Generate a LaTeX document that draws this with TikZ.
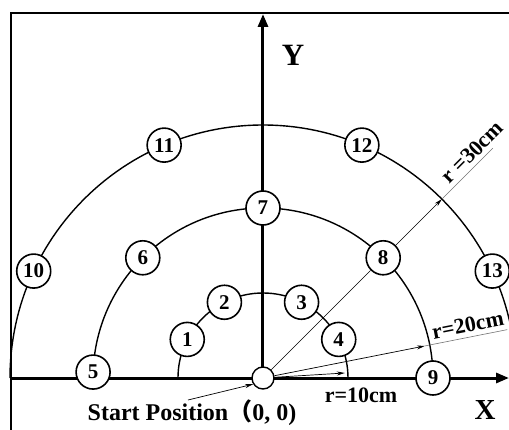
\documentclass[tikz,border=0pt]{standalone}
\usepackage{fontspec}
\setmainfont{Liberation Serif}
\newfontfamily\cjk{Noto Sans CJK SC}
\usetikzlibrary{arrows.meta}
\def\rin{85}
\def\rmid{170}
\def\rout{253}

\begin{document}
\begin{tikzpicture}[
    x=1pt, y=1pt,
    frame/.style={line width=1.6pt},
    axis/.style={line width=3pt, -{Triangle[length=13pt, width=10pt]}},
    ring/.style={line width=1.4pt},
    ray/.style={line width=0.7pt},
    dim/.style={line width=0.7pt, -{Stealth[length=8pt, width=4pt]}},
    lead/.style={line width=0.6pt, draw=black!55},
    spot/.style={circle, draw, line width=1.6pt, fill=white, minimum size=34pt,
                 inner sep=0pt, font=\fontsize{21}{21}\selectfont\bfseries},
    origin/.style={circle, draw, line width=1.4pt, fill=white, minimum size=22pt, inner sep=0pt},
    lab/.style={font=\fontsize{22}{22}\selectfont\bfseries},
  ]

  \useasboundingbox (-263,-51) rectangle (246,378);
  \clip (-263,-51) rectangle (246,378);

  % --- frame -------------------------------------------------------------
  \draw[frame] (-252,-80) -- (-252,365) -- (280,365);

  % --- the three rings ---------------------------------------------------
  \foreach \r in {\rin, \rmid, \rout} {
    \draw[ring] (\r,0) arc[start angle=0, end angle=180, radius=\r];
  }

  % --- axes --------------------------------------------------------------
  \coordinate (xl) at (-252,0);
  \coordinate (xr) at (246,0);
  \coordinate (yb) at (0,0);
  \coordinate (yt) at (0,364);
  \draw[axis] (xl) -- (xr);
  \draw[axis] (yb) -- (yt);
  \node[font=\fontsize{29}{29}\selectfont\bfseries] (xlab) at (222,-32) {X};
  \node[font=\fontsize{31}{31}\selectfont\bfseries] (ylab) at (30,323) {Y};

  % --- start position ----------------------------------------------------
  \node[origin] (O) at (0,0) {};

  % --- measuring points on the rings ------------------------------------
  \foreach \ang/\rad/\lab in {153/\rin/1, 117/\rin/2, 63/\rin/3, 27/\rin/4,
      178/\rmid/5, 135/\rmid/6, 90/\rmid/7, 45/\rmid/8, 0/\rmid/9,
      155/\rout/10, 113/\rout/11, 67/\rout/12, 25/\rout/13} {
    \node[spot] (n\lab) at (\ang:\rad) {\lab};
  }

  % --- radius marks ------------------------------------------------------
  \coordinate (t10) at (3.5:82);
  \coordinate (t20) at (11.2:165);
  \coordinate (e20) at (11.2:249);
  \coordinate (t30) at (45:\rout);
  \coordinate (e30) at (45:325);

  \draw[ray] (O) -- (n8);
  \draw[dim] (n8) -- (t30);
  \draw[lead] (t30) -- (e30) node[lab, pos=0.76, sloped, above=1pt] (r30) {r =30cm};

  \draw[dim] (O) -- (t20);
  \draw[lead] (t20) -- (e20) node[lab, pos=0.55, sloped, above=1pt] (r20) {r=20cm};

  \draw[dim] (O) -- (t10);
  \node[lab] (r10) at (98,-17) {r=10cm};

  % --- start label -------------------------------------------------------
  \node[font=\fontsize{24}{24}\selectfont\bfseries] (start) at (-71,-35)
    {Start Position{\cjk （}0, 0)};
  \coordinate (sp) at (-75,-22);
  \draw[dim] (sp) -- (O.212);

\end{tikzpicture}
\end{document}
